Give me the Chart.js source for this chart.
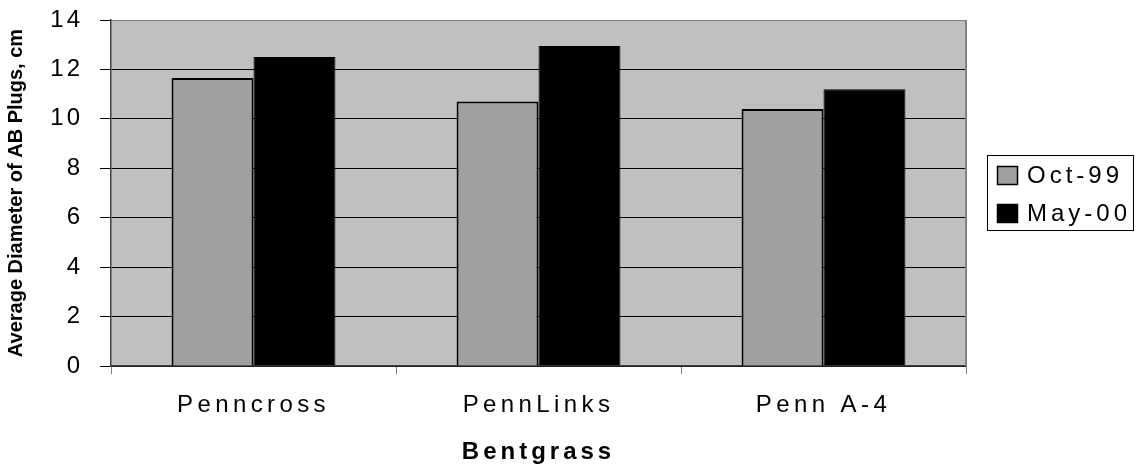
<!DOCTYPE html>
<html>
<head>
<meta charset="utf-8">
<script src="https://cdn.jsdelivr.net/npm/chart.js@4/dist/chart.umd.min.js"></script>
<style>
  html, body { margin: 0; padding: 0; background: #fff; }
  #wrap { width: 1141px; height: 468px; }
</style>
</head>
<body>
<div id="wrap"><canvas id="myChart" width="1141" height="468"></canvas></div>
<script>
// chart data
const categories = ['Penncross', 'PennLinks', 'Penn A-4'];
const seriesNames = ['Oct-99', 'May-00'];
const oct99 = [11.65, 10.7, 10.4];
const may00 = [12.5, 12.95, 11.2];
const yTicks = [0, 2, 4, 6, 8, 10, 12, 14];

const FONT = "'Liberation Sans', Arial, sans-serif";

// canvas letterSpacing per axis (labels are spaced out in the original)
const origLabels = Chart.Scale.prototype.drawLabels;
const origTitle = Chart.Scale.prototype.drawTitle;
Chart.Scale.prototype.drawLabels = function (area) {
    this.ctx.letterSpacing = this.axis === 'x' ? '4.4px' : '3px';
    origLabels.call(this, area);
    this.ctx.letterSpacing = '0px';
};
Chart.Scale.prototype.drawTitle = function () {
    this.ctx.letterSpacing = this.axis === 'x' ? '4px' : '0px';
    origTitle.call(this);
    this.ctx.letterSpacing = '0px';
};

// gray plot background, right border and the boxed legend
const plotDecor = {
    id: 'plotDecor',
    beforeDraw(chart) {
        const a = chart.chartArea;
        const ctx = chart.ctx;
        ctx.save();
        ctx.fillStyle = '#C0C0C0';
        ctx.fillRect(a.left, a.top, a.right - a.left, a.bottom - a.top);
        ctx.restore();
    },
    afterDraw(chart) {
        const a = chart.chartArea;
        const ctx = chart.ctx;
        ctx.save();
        ctx.strokeStyle = '#808080';
        ctx.lineWidth = 2;
        ctx.beginPath();
        ctx.moveTo(a.right, a.top);
        ctx.lineTo(a.right, a.bottom);
        ctx.stroke();

        // legend box
        ctx.strokeStyle = '#000';
        ctx.lineWidth = 1;
        ctx.strokeRect(987.5, 155.5, 146, 75);
        ctx.font = '24px ' + FONT;
        ctx.letterSpacing = '4px';
        ctx.textBaseline = 'middle';
        chart.data.datasets.forEach((ds, i) => {
            const y = 166 + i * 38;
            ctx.fillStyle = ds.backgroundColor;
            ctx.fillRect(997, y, 21, 19);
            ctx.strokeStyle = '#000';
            ctx.lineWidth = 1.5;
            ctx.strokeRect(997.5, y + 0.5, 20, 18);
            ctx.fillStyle = '#000';
            ctx.fillText(ds.label, 1027, y + 10);
        });
        ctx.restore();
    }
};

const ctx = document.getElementById('myChart').getContext('2d');
const myChart = new Chart(ctx, {
    type: 'bar',
    data: {
        labels: categories,
        datasets: [{
            label: seriesNames[0],
            data: oct99,
            backgroundColor: '#A0A0A0',
            borderColor: '#000',
            borderWidth: 2
        }, {
            label: seriesNames[1],
            data: may00,
            backgroundColor: '#000000',
            borderColor: '#000',
            borderWidth: 1
        }]
    },
    options: {
        responsive: false,
        animation: false,
        devicePixelRatio: 1,
        categoryPercentage: 0.575,
        barPercentage: 1.0,
        layout: { padding: { left: 0, top: 20, right: 175, bottom: 0 } },
        plugins: {
            legend: { display: false },
            tooltip: { enabled: false }
        },
        scales: {
            x: {
                grid: {
                    offset: true,
                    drawOnChartArea: false,
                    tickLength: 8,
                    color: '#808080'
                },
                border: { color: '#404040', width: 1.5 },
                ticks: {
                    color: '#000',
                    padding: 17,
                    font: { family: FONT, size: 24 }
                },
                title: {
                    display: true,
                    text: 'Bentgrass',
                    color: '#000',
                    padding: { top: 0, bottom: 1 },
                    font: { family: FONT, size: 24, weight: 'bold' }
                },
                afterFit(scale) {
                    scale.height = 102;
                    scale.paddingLeft = 0;
                    scale.paddingRight = 0;
                }
            },
            y: {
                min: 0,
                max: 14,
                afterBuildTicks(scale) {
                    scale.ticks = yTicks.map(v => ({ value: v }));
                },
                grid: {
                    color: c => (c.tick && c.tick.value === 14) ? '#808080' : '#000',
                    tickColor: '#000',
                    tickLength: 11,
                    lineWidth: 1
                },
                border: { color: '#404040', width: 1.5 },
                ticks: {
                    color: '#000',
                    padding: 17,
                    font: { family: FONT, size: 24 }
                },
                title: {
                    display: true,
                    text: 'Average Diameter of AB Plugs, cm',
                    color: '#000',
                    padding: { top: 4, bottom: 0 },
                    font: { family: FONT, size: 20, weight: 'bold' }
                },
                afterFit(scale) {
                    scale.width = 111;
                    scale.paddingTop = 0;
                    scale.paddingBottom = 0;
                }
            }
        }
    },
    plugins: [plotDecor]
});
</script>
</body>
</html>
